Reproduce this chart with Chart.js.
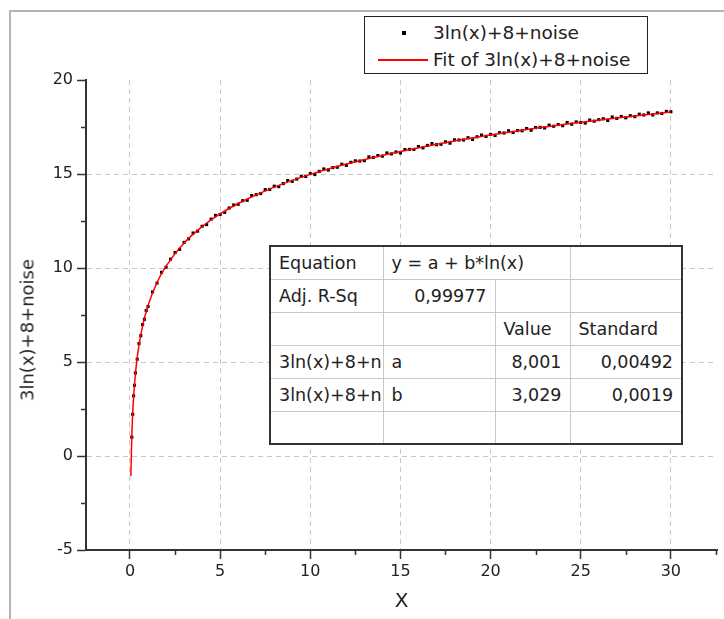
<!DOCTYPE html>
<html>
<head>
<meta charset="utf-8">
<script src="https://cdn.jsdelivr.net/npm/chart.js@4.4.1/dist/chart.umd.min.js"></script>
<style>
  body { margin: 0; background: #fff; font-family: "DejaVu Sans", sans-serif; color: #222; }
  #wrap { position: relative; width: 724px; height: 619px; overflow: hidden; }
  #frame { position: absolute; left: 9px; top: 10px; width: 800px; height: 700px;
           border-left: 2px solid #b4b4b4; border-top: 2px solid #b4b4b4; }
  #chart { position: absolute; left: 0; top: 0; }
  #ytitle { position: absolute; left: 27px; top: 330px; font-size: 18px; white-space: nowrap;
            transform: translate(-50%, -50%) rotate(-90deg); }
  #legend { position: absolute; left: 364px; top: 16px; width: 282px; height: 56px;
            border: 1px solid #222; background: #fff; font-size: 18.5px; }
  #legend .row { position: absolute; left: 0; height: 24px; line-height: 24px; }
  #legend .txt { position: absolute; left: 68px; white-space: nowrap; }
  #legend .sq { position: absolute; left: 37px; top: 10px; width: 4px; height: 4px; background: #000; }
  #legend .ln { position: absolute; left: 13px; top: 11px; width: 50px; height: 0; border-top: 2px solid #f00; }
  #stats { position: absolute; left: 269px; top: 245px; width: 412px; border-collapse: collapse;
           background: #fff; border: 2px solid #333; font-size: 17.5px; table-layout: fixed; }
  #stats tr { height: 33px; }
  #stats td { border: 1.5px solid #c8c8c8; padding: 0 8px; white-space: nowrap;
              overflow: hidden; vertical-align: middle; }
  #stats td.r { text-align: right; }
</style>
</head>
<body>
<div id="wrap">
  <div id="frame"></div>
  <canvas id="chart" width="724" height="619"></canvas>
  <div id="ytitle"></div>
  <div id="legend"></div>
  <table id="stats"></table>
</div>
<script>
// data points
var sampleX = [0.1, 0.15, 0.2, 0.25, 0.3, 0.4, 0.5, 0.6, 0.7, 0.8, 0.9, 1,
  1.25, 1.5, 1.75, 2, 2.25, 2.5, 2.75, 3, 3.25, 3.5, 3.75, 4, 4.25, 4.5, 4.75, 5,
  5.25, 5.5, 5.75, 6, 6.25, 6.5, 6.75, 7, 7.25, 7.5, 7.75, 8, 8.25, 8.5, 8.75, 9,
  9.25, 9.5, 9.75, 10, 10.25, 10.5, 10.75, 11, 11.25, 11.5, 11.75, 12, 12.25, 12.5,
  12.75, 13, 13.25, 13.5, 13.75, 14, 14.25, 14.5, 14.75, 15, 15.25, 15.5, 15.75, 16,
  16.25, 16.5, 16.75, 17, 17.25, 17.5, 17.75, 18, 18.25, 18.5, 18.75, 19, 19.25, 19.5,
  19.75, 20, 20.25, 20.5, 20.75, 21, 21.25, 21.5, 21.75, 22, 22.25, 22.5, 22.75, 23,
  23.25, 23.5, 23.75, 24, 24.25, 24.5, 24.75, 25, 25.25, 25.5, 25.75, 26, 26.25, 26.5,
  26.75, 27, 27.25, 27.5, 27.75, 28, 28.25, 28.5, 28.75, 29, 29.25, 29.5, 29.75, 30];
var sampleY = [1.00, 2.22, 3.20, 3.76, 4.42, 5.15, 5.98, 6.40, 6.99, 7.27, 7.74, 7.95,
  8.73, 9.20, 9.77, 10.04, 10.47, 10.82, 10.99, 11.36, 11.55, 11.86, 11.96, 12.22,
  12.31, 12.60, 12.80, 12.85, 12.96, 13.19, 13.35, 13.39, 13.58, 13.60, 13.85, 13.90,
  13.96, 14.17, 14.18, 14.35, 14.33, 14.49, 14.65, 14.61, 14.73, 14.88, 14.87, 15.02,
  14.97, 15.14, 15.27, 15.21, 15.34, 15.36, 15.52, 15.46, 15.62, 15.70, 15.69, 15.71,
  15.91, 15.88, 15.98, 15.95, 16.12, 16.07, 16.17, 16.12, 16.30, 16.31, 16.31, 16.46,
  16.39, 16.52, 16.62, 16.56, 16.58, 16.71, 16.64, 16.82, 16.81, 16.81, 16.93, 16.84,
  16.98, 17.07, 17.00, 17.11, 17.05, 17.20, 17.18, 17.30, 17.21, 17.31, 17.30, 17.42,
  17.33, 17.47, 17.48, 17.45, 17.60, 17.54, 17.63, 17.57, 17.74, 17.65, 17.77, 17.74,
  17.71, 17.87, 17.81, 17.89, 17.94, 17.85, 18.03, 17.96, 18.06, 17.99, 18.10, 18.05,
  18.18, 18.14, 18.25, 18.14, 18.25, 18.22, 18.33, 18.31];

// fitted curve y = a + b*ln(x)
var fitX = [0.05, 0.1, 0.15, 0.2, 0.3, 0.4, 0.5, 0.7, 1, 1.5, 2, 3, 4, 5, 6, 8, 10, 12, 15, 18, 21, 24, 27, 30];
var fitY = [-1.07, 1.03, 2.26, 3.13, 4.35, 5.23, 5.90, 6.92, 8.00, 9.23, 10.10, 11.33, 12.20, 12.88,
  13.43, 14.30, 14.98, 15.53, 16.20, 16.76, 17.22, 17.63, 17.98, 18.30];

var xTicks = [0, 5, 10, 15, 20, 25, 30];
var yTicks = [-5, 0, 5, 10, 15, 20];
var xMinorTicks = [-2.5, 2.5, 7.5, 12.5, 17.5, 22.5, 27.5, 32.5];
var yMinorTicks = [-2.5, 2.5, 7.5, 12.5, 17.5];

var seriesNames = ["3ln(x)+8+noise", "Fit of 3ln(x)+8+noise"];
var axisTitles = ["X", "3ln(x)+8+noise"];

// fit results table
var statsRows = [
  ["Equation", "y = a + b*ln(x)", ""],
  ["Adj. R-Sq", "0,99977", "", ""],
  ["", "", "Value", "Standard"],
  ["3ln(x)+8+n", "a", "8,001", "0,00492"],
  ["3ln(x)+8+n", "b", "3,029", "0,0019"],
  ["", "", "", ""]
];
var colWidths = [113, 112, 75, 112];

function toPoints(xs, ys) {
  return xs.map(function (x, i) { return { x: x, y: ys[i] }; });
}

// legend
var legend = document.getElementById("legend");
legend.innerHTML =
  '<div class="row" style="top:4px;width:100%"><span class="sq"></span><span class="txt">' + seriesNames[0] + '</span></div>' +
  '<div class="row" style="top:31px;width:100%"><span class="ln"></span><span class="txt">' + seriesNames[1] + '</span></div>';

document.getElementById("ytitle").textContent = axisTitles[1];

// table
var table = document.getElementById("stats");
var html = '<colgroup>' + colWidths.map(function (w) { return '<col style="width:' + w + 'px">'; }).join('') + '</colgroup>';
statsRows.forEach(function (row, r) {
  html += '<tr>';
  row.forEach(function (cell, c) {
    var span = (r === 0 && c === 1) ? ' colspan="2"' : '';
    var right = (r === 1 && c === 1) || (r >= 3 && c >= 2) ? ' class="r"' : '';
    html += '<td' + span + right + '>' + cell + '</td>';
  });
  html += '</tr>';
});
table.innerHTML = html;

var font = "'DejaVu Sans', sans-serif";

// minor ticks, placed through the scales
var minorTicks = {
  id: 'minorTicks',
  afterDraw: function (chart) {
    var ctx = chart.ctx;
    var xs = chart.scales.x, ys = chart.scales.y;
    ctx.save();
    ctx.strokeStyle = '#333';
    ctx.lineWidth = 1.5;
    ctx.beginPath();
    xMinorTicks.forEach(function (v) {
      if (v < xs.min || v > xs.max) return;
      var px = Math.round(xs.getPixelForValue(v)) + 0.5;
      ctx.moveTo(px, xs.top);
      ctx.lineTo(px, xs.top + 5);
    });
    yMinorTicks.forEach(function (v) {
      var py = Math.round(ys.getPixelForValue(v)) + 0.5;
      ctx.moveTo(ys.right, py);
      ctx.lineTo(ys.right - 5, py);
    });
    ctx.stroke();
    ctx.restore();
  }
};

new Chart(document.getElementById("chart"), {
  type: 'scatter',
  data: {
    datasets: [{
      label: seriesNames[1],
      data: toPoints(fitX, fitY),
      showLine: true,
      borderColor: '#ff0000',
      borderWidth: 1.5,
      pointRadius: 0,
      cubicInterpolationMode: 'monotone',
      order: 0
    }, {
      label: seriesNames[0],
      data: toPoints(sampleX, sampleY),
      showLine: false,
      pointStyle: 'rect',
      pointRadius: 2.2,
      borderWidth: 0,
      backgroundColor: '#000',
      order: 1
    }]
  },
  options: {
    responsive: false,
    animation: false,
    layout: { padding: { top: 80, right: 7, left: 0, bottom: 0 } },
    plugins: { legend: { display: false }, tooltip: { enabled: false } },
    scales: {
      x: {
        type: 'linear',
        min: -2.44,
        max: 32.56,
        afterFit: function (s) { s.height = 69; },
        afterBuildTicks: function (s) { s.ticks = xTicks.map(function (v) { return { value: v }; }); },
        ticks: { color: '#222', padding: 3, font: { family: font, size: 16 } },
        grid: { color: '#c8c8c8', lineWidth: 1, tickColor: '#333', tickLength: 9, tickWidth: 1.5 },
        border: { display: true, color: '#333', width: 2, dash: [5, 4] },
        title: { display: true, text: axisTitles[0], color: '#222',
                 font: { family: font, size: 20 }, padding: { top: 0, bottom: 5 } }
      },
      y: {
        min: -5,
        max: 20,
        afterFit: function (s) { s.width = 86; },
        afterBuildTicks: function (s) { s.ticks = yTicks.map(function (v) { return { value: v }; }); },
        ticks: { color: '#222', padding: 4, font: { family: font, size: 16 } },
        grid: {
          color: function (c) { return (c.tick && (c.tick.value === 20 || c.tick.value === -5)) ? 'rgba(0,0,0,0)' : '#c8c8c8'; },
          lineWidth: 1, tickColor: '#333', tickLength: 9, tickWidth: 1.5
        },
        border: { display: true, color: '#333', width: 2, dash: [5, 4] }
      }
    }
  },
  plugins: [minorTicks]
});
</script>
</body>
</html>
